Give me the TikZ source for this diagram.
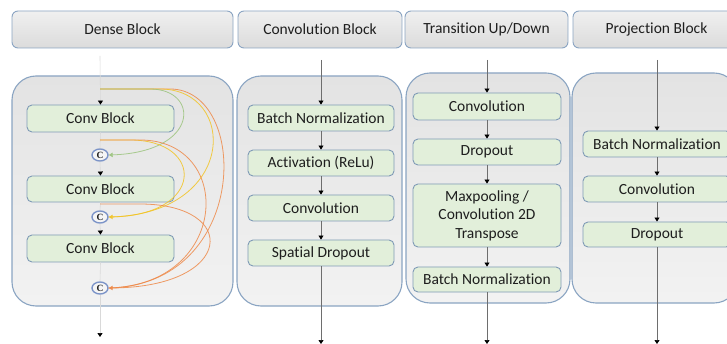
\documentclass[tikz,border=0pt]{standalone}
\usepackage{fontspec}
\setmainfont{Carlito}[Ligatures=NoCommon]
\newfontfamily\concatfont{Liberation Serif}
\usetikzlibrary{arrows.meta,shapes.geometric}
\definecolor{frameblue}{HTML}{8AA4C2}
\definecolor{boxgreen}{HTML}{E2EFDA}
\definecolor{boxedge}{HTML}{7F9AB6}
\definecolor{flowgray}{HTML}{6E6E6E}
\definecolor{skipgreen}{HTML}{9CC47E}
\definecolor{skipyellow}{HTML}{F2C425}
\definecolor{skiporange}{HTML}{EE8A4A}
\definecolor{inktext}{HTML}{1E1E1E}
\tikzset{
  header/.style={draw=frameblue, line width=0.9pt, rounded corners=6pt,
    top color=white!94!black, bottom color=white!86!black},
  panel/.style={draw=frameblue, line width=1.1pt, rounded corners=24pt,
    top color=white!89!black, bottom color=white!95!black},
  layer/.style={draw=boxedge, line width=0.9pt, rounded corners=5pt, fill=boxgreen,
    inner sep=0pt, align=center},
  flow/.style={draw=flowgray, line width=0.6pt},
  faintflow/.style={draw=white!85!black, line width=0.6pt},
  tip/.style={-{Triangle[width=5pt,length=4pt,color=black]}},
  concat/.style={ellipse, draw=frameblue!90!blue, line width=1.4pt, fill=white!96!black,
    minimum width=16pt, minimum height=12pt, inner sep=0pt,
    font=\concatfont\fontsize{9.5}{9.5}\selectfont\bfseries},
  skip/.style={line width=0.8pt, opacity=0.85},
}
\begin{document}
\begin{tikzpicture}[x=1pt,y=-1pt, every node/.style={text=inktext, font=\fontsize{15.5}{18.5}\selectfont}]
\useasboundingbox (0,0) rectangle (727,344);
\clip (0,0) rectangle (727,344);

% column headers
\draw[header] (12,11) rectangle (233,48);
\node (h1) at (122.5,29.5) {Dense Block};
\draw[header] (238,11) rectangle (402,48);
\node (h2) at (320,29.5) {Convolution Block};
\draw[header] (405,11) rectangle (568,48);
\node (h3) at (486.5,29.5) {Transition Up/Down};
\draw[header] (573,11) rectangle (740,48);
\node (h4) at (656.5,29.5) {Projection Block};

% panels
\draw[panel] (12,76) rectangle (233,306);
\draw[panel] (237,76) rectangle (402,306);
\draw[panel] (406,73) rectangle (570,303);
\draw[panel] (572,73) rectangle (738,303);

% ---- dense block ----
\node[layer, minimum width=147pt, minimum height=27pt] (d1) at (100.5,118.5) {Conv Block};
\node[layer, minimum width=147pt, minimum height=26pt] (d2) at (100.5,189) {Conv Block};
\node[layer, minimum width=147pt, minimum height=27pt] (d3) at (100.5,248.5) {Conv Block};
\node[concat] (c1) at (100,155) {C};
\node[concat] (c2) at (100,217) {C};
\node[concat] (c3) at (100,288) {C};
\coordinate (dtop) at (100,56);
\coordinate (dend) at (100,337);
\coordinate (t0) at (100,89);
\coordinate (t1) at (100,140);
\coordinate (t2) at (100,204);

\draw[faintflow, tip] (dtop) -- (d1.north);
\draw[faintflow] (d1.south) -- (c1.north);
\draw[faintflow, tip] (c1.south) -- (d2.north);
\draw[faintflow] (d2.south) -- (c2.north);
\draw[faintflow, tip] (c2.south) -- (d3.north);
\draw[faintflow] (d3.south) -- (c3.north);
\draw[faintflow, tip] (c3.south) -- (dend);

% dense skip connections
\draw[skip, skiporange] (t0) -- (170,89) .. controls (250,89) and (250,285) .. (c3.east);
\draw[skip, skipyellow] (t0) -- (160,89) .. controls (238,89) and (238,215) .. (c2.east);
\draw[skip, skipgreen, -{Triangle[width=4.5pt,length=4pt]}] (t0) -- (150,89) .. controls (200,89) and (200,152) .. (c1.east);
\draw[skip, skipyellow, -{Triangle[width=4.5pt,length=4pt]}] (t1) -- (130,140) .. controls (205,140) and (205,215) .. (c2.east);
\draw[skip, skiporange] (t1) -- (140,140) .. controls (235,140) and (230,285) .. (c3.east);
\draw[skip, skiporange, -{Triangle[width=4.5pt,length=4pt]}] (t2) -- (140,204) .. controls (240,204) and (235,287) .. (c3.east);

% ---- convolution block ----
\node[layer, minimum width=146pt, minimum height=26pt] (b1) at (321,118) {Batch Normalization};
\node[layer, minimum width=146pt, minimum height=26pt] (b2) at (321,163) {Activation (ReLu)};
\node[layer, minimum width=146pt, minimum height=26pt] (b3) at (321,208) {Convolution};
\node[layer, minimum width=146pt, minimum height=26pt] (b4) at (321,253) {Spatial Dropout};
\coordinate (btop) at (321,60);
\coordinate (bend) at (321,344);
\draw[flow, tip] (btop) -- (b1.north);
\draw[flow, tip] (b1.south) -- (b2.north);
\draw[flow, tip] (b2.south) -- (b3.north);
\draw[flow, tip] (b3.south) -- (b4.north);
\draw[flow, tip] (b4.south) -- (bend);

% ---- transition up/down ----
\node[layer, minimum width=148pt, minimum height=27pt] (u1) at (487,106.5) {Convolution};
\node[layer, minimum width=148pt, minimum height=26pt] (u2) at (487,152) {Dropout};
\node[layer, minimum width=148pt, minimum height=63pt] (u3) at (487,215.5) {Maxpooling /\\Convolution 2D\\Transpose};
\node[layer, minimum width=148pt, minimum height=25pt] (u4) at (487,279.5) {Batch Normalization};
\coordinate (utop) at (487,60);
\coordinate (uend) at (487,344);
\draw[flow, tip] (utop) -- (u1.north);
\draw[flow, tip] (u1.south) -- (u2.north);
\draw[flow, tip] (u2.south) -- (u3.north);
\draw[flow, tip] (u3.south) -- (u4.north);
\draw[flow, tip] (u4.south) -- (uend);

% ---- projection block ----
\node[layer, minimum width=148pt, minimum height=26pt] (p1) at (657,144) {Batch Normalization};
\node[layer, minimum width=148pt, minimum height=26pt] (p2) at (657,189) {Convolution};
\node[layer, minimum width=148pt, minimum height=25pt] (p3) at (657,234.5) {Dropout};
\coordinate (ptop) at (657,60);
\coordinate (pend) at (657,344);
\draw[flow, tip] (ptop) -- (p1.north);
\draw[flow, tip] (p1.south) -- (p2.north);
\draw[flow, tip] (p2.south) -- (p3.north);
\draw[flow, tip] (p3.south) -- (pend);
\end{tikzpicture}
\end{document}
